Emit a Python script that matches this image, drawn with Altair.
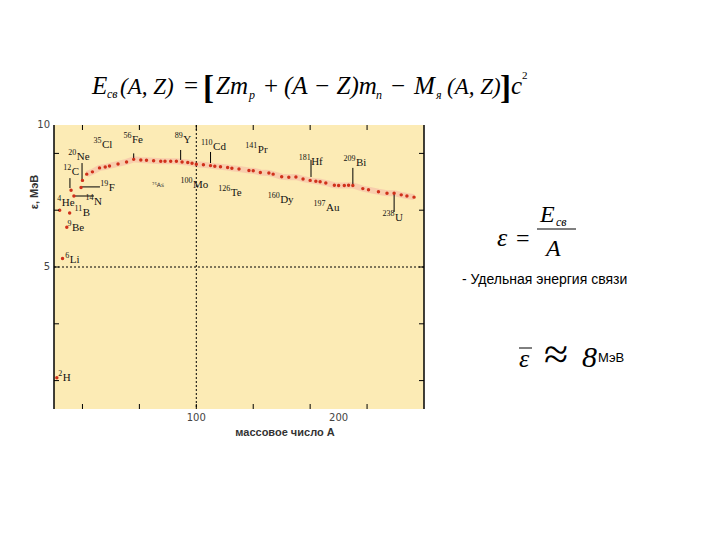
import altair as alt
import pandas as pd

# ---------------- data ----------------
A_light = [2, 4, 6, 9, 11, 12, 14, 19, 20]
E_light = [1.1, 7.0, 5.3, 6.4, 6.9, 7.7, 7.5, 7.8, 8.05]

A_main = [23, 27, 32, 36, 39, 45, 51, 56, 61, 65, 70, 75, 78, 82, 86, 90, 94, 97,
          100, 105, 110, 113, 117, 122, 125, 130, 137, 140, 145, 151, 154, 160,
          165, 170, 175, 180, 184, 187, 191, 197, 200, 204, 207, 210, 217, 221,
          228, 234, 239, 244, 248, 253]
E_main = [8.27, 8.35, 8.49, 8.52, 8.56, 8.63, 8.70, 8.79, 8.77, 8.76, 8.74, 8.72,
          8.72, 8.72, 8.72, 8.70, 8.68, 8.65, 8.62, 8.60, 8.57, 8.55, 8.53, 8.50,
          8.48, 8.45, 8.40, 8.39, 8.33, 8.31, 8.27, 8.18, 8.16, 8.17, 8.10, 8.05,
          8.02, 8.00, 7.96, 7.88, 7.87, 7.87, 7.88, 7.87, 7.76, 7.72, 7.65, 7.60,
          7.60, 7.54, 7.50, 7.46]

lab_mass = ["2", "6", "9", "4", "11", "12", "14", "19", "20", "35", "56", "89", "110",
            "141", "181", "209", "238", "100", "126", "160", "197"]
lab_sym = ["H", "Li", "Be", "He", "B", "C", "N", "F", "Ne", "Cl", "Fe", "Y", "Cd",
           "Pr", "Hf", "Bi", "U", "Mo", "Te", "Dy", "Au"]
lab_A = [2.8, 7.7, 9.3, 2.1, 14.0, 6.3, 21.8, 32.3, 9.8, 27.4, 48.5, 84.5, 102.6,
         134.0, 171.5, 203.0, 230.5, 88.5, 115.0, 149.7, 182.0]
lab_E = [1.09, 5.25, 6.37, 7.25, 6.90, 8.35, 7.29, 7.78, 8.87, 9.30, 9.47, 9.47,
         9.23, 9.12, 8.70, 8.66, 6.73, 7.89, 7.60, 7.36, 7.08]

small_text = ["⁷⁵As"]
small_A = [68.9]
small_E = [7.89]

lead_A = [11.2, 19.7, 19.7, 14.8, 56.0, 89.0, 110.0, 180.6, 210.0, 239.0]
lead_A2 = [11.2, 19.7, 32.3, 28.1, 56.0, 89.0, 110.0, 180.6, 210.0, 239.0]
lead_E = [8.13, 8.66, 7.82, 7.50, 9.00, 9.12, 9.05, 8.77, 8.49, 7.60]
lead_E2 = [7.78, 8.06, 7.82, 7.50, 8.82, 8.77, 8.66, 8.17, 7.89, 6.94]

x_ticks = [20, 60, 100, 140, 180, 220]
y_ticks = [1, 3, 5, 7, 9]
x_labels = [100, 200]
y_labels = [5, 10]
grid_x = [100]
grid_y = [5]

# ---------------- layout ----------------
W, H = 370, 284
OX, OY = 54, 125          # page position of plot origin
BG = "#FCEBB5"
RED = "#D0301A"
PX_PER_A = W / 260.0

xs = alt.Scale(domain=[0, 260], nice=False, zero=False)
ys = alt.Scale(domain=[0, 10], nice=False, zero=False)

pts = pd.DataFrame({"A": A_light + A_main, "E": E_light + E_main})
main = pd.DataFrame({"A": A_main, "E": E_main})
anchor = [a + len(m) * 4.2 / PX_PER_A for a, m in zip(lab_A, lab_mass)]
labs = pd.DataFrame({"m": lab_mass, "s": lab_sym, "A": anchor, "E": lab_E})
smalls = pd.DataFrame({"t": small_text, "A": small_A, "E": small_E})
leads = pd.DataFrame({"A": lead_A, "A2": lead_A2, "E": lead_E, "E2": lead_E2})

band = alt.Chart(main).mark_line(color="#F6C6AA", strokeWidth=6, opacity=0.8).encode(
    x=alt.X("A:Q", scale=xs, axis=None), y=alt.Y("E:Q", scale=ys, axis=None))

gx = alt.Chart(pd.DataFrame({"v": grid_x})).mark_rule(color="black", strokeDash=[2, 2], strokeWidth=1).encode(
    x=alt.X("v:Q", scale=xs, axis=None))
gy = alt.Chart(pd.DataFrame({"v": grid_y})).mark_rule(color="black", strokeDash=[2, 2], strokeWidth=1).encode(
    y=alt.Y("v:Q", scale=ys, axis=None))

leaders = alt.Chart(leads).mark_rule(color="black", strokeWidth=1).encode(
    x=alt.X("A:Q", scale=xs, axis=None), x2="A2:Q",
    y=alt.Y("E:Q", scale=ys, axis=None), y2="E2:Q")

dots = alt.Chart(pts).mark_point(filled=True, size=12, color=RED, opacity=1).encode(
    x=alt.X("A:Q", scale=xs, axis=None), y=alt.Y("E:Q", scale=ys, axis=None))

lab_mass_layer = alt.Chart(labs).mark_text(align="right", baseline="middle", dy=-4,
                                           font="Liberation Serif", fontSize=8, color="#111").encode(
    x=alt.X("A:Q", scale=xs, axis=None), y=alt.Y("E:Q", scale=ys, axis=None), text="m:N")
lab_sym_layer = alt.Chart(labs).mark_text(align="left", baseline="middle", dx=0.5,
                                          font="Liberation Serif", fontSize=11, color="#111").encode(
    x=alt.X("A:Q", scale=xs, axis=None), y=alt.Y("E:Q", scale=ys, axis=None), text="s:N")
slabels = alt.Chart(smalls).mark_text(align="left", baseline="middle", font="DejaVu Sans",
                                      fontSize=6, color="#333").encode(
    x=alt.X("A:Q", scale=xs, axis=None), y=alt.Y("E:Q", scale=ys, axis=None), text="t:N")

# tick labels through the scales
xlab = alt.Chart(pd.DataFrame({"v": x_labels})).mark_text(
    baseline="middle", align="center", font="DejaVu Sans", fontSize=10, color="#444").encode(
    x=alt.X("v:Q", scale=xs, axis=None), y=alt.value(H + 9), text=alt.Text("v:Q"))
ylab = alt.Chart(pd.DataFrame({"v": y_labels})).mark_text(
    baseline="middle", align="right", font="DejaVu Sans", fontSize=10, color="#444").encode(
    y=alt.Y("v:Q", scale=ys, axis=None), x=alt.value(-4), text=alt.Text("v:Q"))

# inward tick marks on the four sides
tb = alt.Chart(pd.DataFrame({"v": x_ticks})).mark_rule(color="black").encode(
    x=alt.X("v:Q", scale=xs, axis=None), y=alt.value(H), y2=alt.value(H - 5))
tt = alt.Chart(pd.DataFrame({"v": x_ticks})).mark_rule(color="black").encode(
    x=alt.X("v:Q", scale=xs, axis=None), y=alt.value(0), y2=alt.value(5))
tl = alt.Chart(pd.DataFrame({"v": y_ticks})).mark_rule(color="black").encode(
    y=alt.Y("v:Q", scale=ys, axis=None), x=alt.value(0), x2=alt.value(5))
tr = alt.Chart(pd.DataFrame({"v": y_ticks})).mark_rule(color="black").encode(
    y=alt.Y("v:Q", scale=ys, axis=None), x=alt.value(W - 5), x2=alt.value(W))
left_line = alt.Chart(pd.DataFrame({"v": [0]})).mark_rule(color="black", strokeWidth=1.5).encode(
    x=alt.value(0), y=alt.value(0), y2=alt.value(H))
right_line = alt.Chart(pd.DataFrame({"v": [0]})).mark_rule(color="black", strokeWidth=1.5).encode(
    x=alt.value(W), y=alt.value(0), y2=alt.value(H))


def txt(s, px, py, size, style="italic", font="Liberation Serif", weight="normal",
        align="left", baseline="alphabetic", angle=0, color="black"):
    return alt.Chart(pd.DataFrame({"t": [s]})).mark_text(
        align=align, baseline=baseline, font=font, fontSize=size, fontStyle=style,
        fontWeight=weight, angle=angle, color=color).encode(
        x=alt.value(px - OX), y=alt.value(py - OY), text="t:N")


def hline(x1, x2, py, w=1):
    return alt.Chart(pd.DataFrame({"v": [0]})).mark_rule(color="black", strokeWidth=w).encode(
        x=alt.value(x1 - OX), x2=alt.value(x2 - OX), y=alt.value(py - OY))


texts = [
    # axis titles
    txt("массовое число A", 285, 433, 11, style="normal", font="Liberation Sans", weight="bold",
        align="center", baseline="middle", color="#333"),
    txt("ε, МэВ", 35, 192, 11, style="normal", font="Liberation Sans", weight="bold",
        align="center", baseline="middle", angle=270, color="#333"),
    # main formula
    txt("E", 92, 94, 25),
    txt("св", 107, 98, 12),
    txt("(A, Z)", 120, 94, 23),
    txt("=", 184, 94, 25, style="normal"),
    txt("[", 203, 99, 33, style="normal", weight="bold"),
    txt("Zm", 216, 94, 25),
    txt("p", 249, 99, 12),
    txt("+", 264, 94, 25, style="normal"),
    txt("(A − Z)m", 284, 94, 25),
    txt("n", 376, 99, 12),
    txt("−", 391, 94, 25, style="normal"),
    txt("M", 414, 94, 25),
    txt("я", 436, 99, 12),
    txt("(A, Z)", 447, 94, 23),
    txt("]", 500, 99, 33, style="normal", weight="bold"),
    txt("c", 511, 94, 25),
    txt("2", 522, 79, 11, style="normal"),
    # epsilon = E/A
    txt("ε", 497, 246, 26),
    txt("=", 516, 246, 24, style="normal"),
    txt("E", 540, 222, 24),
    txt("св", 556, 226, 12),
    hline(537, 576, 229),
    txt("A", 546, 256, 24),
    txt("- Удельная энергия связи", 462, 284, 14, style="normal", font="Liberation Sans"),
    # mean epsilon
    txt("ε", 519, 367, 26),
    hline(519, 532, 348),
    txt("≈", 544, 369, 44, style="normal"),
    txt("8", 582, 367, 30),
    txt("МэВ", 598, 362, 13, style="normal", font="Liberation Sans"),
]

chart = alt.layer(
    band, gx, gy, leaders, dots, lab_mass_layer, lab_sym_layer, slabels, xlab, ylab,
    tb, tt, tl, tr, left_line, right_line, *texts
).properties(
    width=W, height=H,
    autosize=alt.AutoSizeParams(type="none"),
    padding={"left": OX - 8, "top": OY - 8, "right": 712 - OX - W, "bottom": 532 - OY - H},
).configure_view(fill=BG, stroke=None)

chart.save("out.html", embed_options={"renderer": "svg", "actions": False})
